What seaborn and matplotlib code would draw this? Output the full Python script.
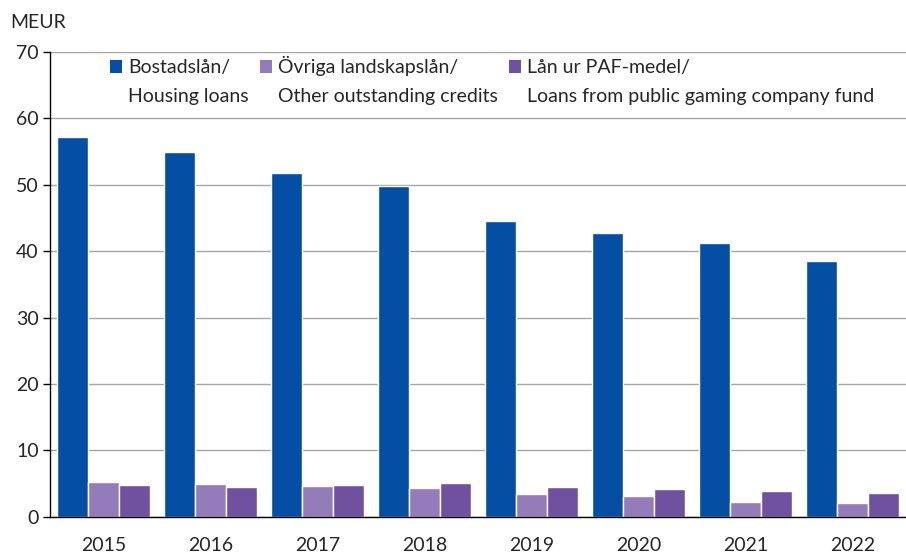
import pandas as pd
import matplotlib
matplotlib.use('Agg')
import matplotlib.pyplot as plt
from matplotlib.patches import Patch
import seaborn as sns

years = ['2015', '2016', '2017', '2018', '2019', '2020', '2021', '2022']
housing = [57.2, 54.9, 51.8, 49.8, 44.6, 42.8, 41.2, 38.6]
other = [5.2, 5.0, 4.7, 4.3, 3.4, 3.1, 2.3, 2.1]
paf = [4.8, 4.5, 4.8, 5.1, 4.5, 4.2, 3.9, 3.6]

series_top = ['Bostadslån/', 'Övriga landskapslån/', 'Lån ur PAF-medel/']
series_bottom = ['Housing loans', 'Other outstanding credits', 'Loans from public gaming company fund']
colors = ['#044EA3', '#937CB9', '#7051A0']

sns.set_style('white')
plt.rcParams['font.family'] = ['Lato', 'DejaVu Sans']

# long format for seaborn
df = pd.DataFrame({
    'year': years * 3,
    'value': housing + other + paf,
    'series': [series_top[0]] * 8 + [series_top[1]] * 8 + [series_top[2]] * 8,
})

fig = plt.figure(figsize=(9.06, 5.54), dpi=100)
ax = fig.add_axes([0.055, 0.067, 0.945, 0.839])

sns.barplot(data=df, x='year', y='value', hue='series', palette=colors,
            width=0.87, saturation=1, edgecolor='white', linewidth=1,
            ax=ax, legend=False)

ax.set_ylim(0, 70)
ax.set_yticks(range(0, 71, 10))
ax.set_xlim(-0.5, 7.5)
ax.grid(axis='y', color='#A6A6A6', linewidth=1)
ax.set_axisbelow(True)
for s in ['top', 'right']:
    ax.spines[s].set_visible(False)
ax.spines['left'].set_color('black')
ax.spines['bottom'].set_color('black')
ax.spines['left'].set_linewidth(1)
ax.spines['bottom'].set_linewidth(1)
ax.set_xlabel('')
ax.set_ylabel('')
ax.tick_params(axis='y', which='major', left=True, length=5, width=1, color='black',
               labelsize=14, pad=3)
ax.tick_params(axis='x', bottom=False, labelsize=14, pad=11)

fig.text(0.011, 0.96, 'MEUR', fontsize=14, va='center')

# legend: two rows, handle only on first line
handles = []
labels = []
for c, top, bottom in zip(colors, series_top, series_bottom):
    handles.append(Patch(facecolor=c, edgecolor='none'))
    labels.append(top)
    handles.append(Patch(facecolor='none', edgecolor='none'))
    labels.append(bottom)
ax.legend(handles, labels, ncol=3, loc='upper left', bbox_to_anchor=(0.057, 1.016),
          frameon=False, fontsize=14, handlelength=0.6, handleheight=0.6,
          handletextpad=0.3, columnspacing=0.6, labelspacing=0.6, borderaxespad=0.2)

fig.savefig('out.png', dpi=100)
